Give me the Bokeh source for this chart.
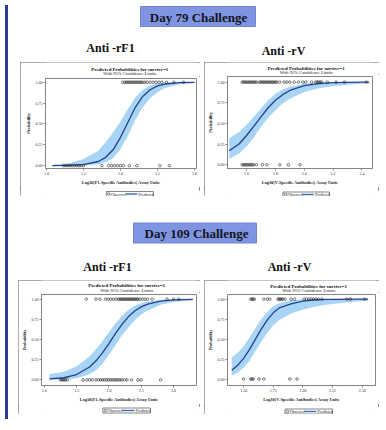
from bokeh.plotting import figure
from bokeh.layouts import row, column
from bokeh.models import FixedTicker, PrintfTickFormatter, Div, Spacer, Range1d
from bokeh.core.properties import value
from bokeh.embed import file_html
from bokeh.resources import INLINE

SERIF = "Liberation Serif"

# ---------------- text ----------------
day_titles = ["Day 79 Challenge", "Day 109 Challenge"]
antibody_titles = ["Anti -rF1", "Anti -rV"]
panel_title = "Predicted Probabilities for survive=1"
panel_subtitle = "With 95% Confidence Limits"
legend_labels = ["Observed", "Predicted"]
xlabel_f1 = "Log10(F1-Specific Antibodies) Assay Units"
xlabel_v = "Log10(V-Specific Antibodies) Assay Units"
ylabel = "Probability"
prob_ticks = [0.0, 0.25, 0.5, 0.75, 1.0]

# ---------------- Day 79, anti-rF1 ----------------
d79f1_x = [1.08, 1.3, 1.5, 1.7, 1.8, 1.9, 2.0, 2.1, 2.2, 2.3, 2.4, 2.5, 2.6, 2.8, 3.0]
d79f1_p = [0.001, 0.003, 0.012, 0.05, 0.10, 0.19, 0.34, 0.52, 0.70, 0.83, 0.91, 0.956, 0.979, 0.995, 0.999]
d79f1_lo = [0.0, 0.0, 0.002, 0.015, 0.04, 0.09, 0.20, 0.36, 0.55, 0.70, 0.81, 0.88, 0.93, 0.975, 0.992]
d79f1_hi = [0.012, 0.03, 0.08, 0.18, 0.28, 0.40, 0.53, 0.68, 0.82, 0.91, 0.96, 0.985, 0.995, 1.0, 1.0]
d79f1_alive = [2.03, 2.06, 2.08, 2.10, 2.12, 2.14, 2.16, 2.18, 2.20, 2.22, 2.24, 2.26, 2.28,
               2.30, 2.33, 2.36, 2.40, 2.44, 2.48, 2.52, 2.56, 2.62, 2.72, 2.85]
d79f1_dead = [1.23, 1.26, 1.29, 1.32, 1.35, 1.38, 1.41, 1.44, 1.47, 1.50, 1.75, 1.84, 1.88,
              1.92, 1.96, 2.00, 2.04, 2.12, 2.22, 2.53, 2.66]
d79f1_xticks = [1.0, 1.5, 2.0, 2.5, 3.0]

# ---------------- Day 79, anti-rV ----------------
d79v_x = [1.48, 1.55, 1.6, 1.65, 1.7, 1.75, 1.8, 1.85, 1.9, 2.0, 2.1, 2.2, 2.3, 2.4, 2.45]
d79v_p = [0.17, 0.255, 0.354, 0.465, 0.58, 0.69, 0.78, 0.848, 0.899, 0.958, 0.983, 0.993, 0.997, 0.999, 0.9995]
d79v_lo = [0.07, 0.14, 0.22, 0.33, 0.46, 0.57, 0.66, 0.74, 0.80, 0.88, 0.925, 0.95, 0.968, 0.98, 0.985]
d79v_hi = [0.32, 0.40, 0.48, 0.58, 0.68, 0.78, 0.86, 0.91, 0.945, 0.98, 0.993, 0.998, 1.0, 1.0, 1.0]
d79v_alive = [1.57, 1.58, 1.59, 1.60, 1.61, 1.62, 1.63, 1.64, 1.65, 1.66, 1.67, 1.69, 1.70, 1.71,
              1.72, 1.73, 1.74, 1.75, 1.76, 1.77, 1.78, 1.79, 1.80, 1.81, 1.83, 1.86, 1.88, 1.90,
              1.93, 1.96, 1.99, 2.01, 2.05, 2.08, 2.09, 2.10, 2.11, 2.12, 2.16, 2.22, 2.28, 2.43]
d79v_dead = [1.57, 1.58, 1.59, 1.60, 1.61, 1.62, 1.63, 1.64, 1.65, 1.67, 1.71, 1.74, 1.83, 1.89, 1.97]
d79v_xticks = [1.6, 1.8, 2.0, 2.2, 2.4]

# ---------------- Day 109, anti-rF1 ----------------
d109f1_x = [1.08, 1.3, 1.5, 1.7, 1.8, 1.9, 2.0, 2.1, 2.2, 2.3, 2.4, 2.5, 2.6, 2.8, 3.0, 3.3]
d109f1_p = [0.012, 0.026, 0.066, 0.159, 0.236, 0.334, 0.45, 0.573, 0.686, 0.781, 0.853, 0.905,
            0.939, 0.976, 0.991, 0.998]
d109f1_lo = [0.001, 0.005, 0.02, 0.07, 0.12, 0.20, 0.31, 0.43, 0.55, 0.65, 0.74, 0.81, 0.86,
             0.93, 0.965, 0.988]
d109f1_hi = [0.07, 0.10, 0.17, 0.29, 0.38, 0.48, 0.59, 0.70, 0.79, 0.87, 0.92, 0.95, 0.97,
             0.99, 0.997, 1.0]
d109f1_alive = [1.65, 1.80, 1.86, 1.95, 1.99, 2.03, 2.07, 2.11, 2.15, 2.17, 2.19, 2.21, 2.23,
                2.25, 2.27, 2.29, 2.31, 2.33, 2.35, 2.37, 2.39, 2.41, 2.43, 2.45, 2.48, 2.52,
                2.56, 2.60, 2.67, 2.90, 3.00, 3.08]
d109f1_dead = [1.25, 1.27, 1.29, 1.31, 1.33, 1.36, 1.60, 1.66, 1.70, 1.74, 1.80, 1.84, 1.87,
               1.90, 1.93, 1.96, 1.99, 2.02, 2.05, 2.08, 2.11, 2.14, 2.17, 2.20, 2.24, 2.28,
               2.35, 2.45, 2.50, 2.80]
d109f1_xticks = [1.0, 1.5, 2.0, 2.5, 3.0]

# ---------------- Day 109, anti-rV ----------------
d109v_x = [1.40, 1.45, 1.5, 1.55, 1.6, 1.65, 1.7, 1.75, 1.8, 1.9, 2.0, 2.1, 2.2, 2.3, 2.4, 2.55]
d109v_p = [0.11, 0.171, 0.259, 0.372, 0.5, 0.628, 0.741, 0.829, 0.89, 0.94, 0.975, 0.99,
           0.996, 0.998, 0.999, 1.0]
d109v_lo = [0.04, 0.08, 0.14, 0.23, 0.35, 0.47, 0.58, 0.67, 0.74, 0.82, 0.87, 0.905, 0.93,
            0.95, 0.965, 0.98]
d109v_hi = [0.27, 0.33, 0.41, 0.52, 0.64, 0.75, 0.84, 0.91, 0.95, 0.985, 0.995, 0.998, 1.0,
            1.0, 1.0, 1.0]
d109v_alive = [1.56, 1.57, 1.58, 1.59, 1.67, 1.70, 1.72, 1.79, 1.80, 1.81, 1.82, 1.83, 1.85,
               1.90, 1.93, 2.01, 2.03, 2.05, 2.07, 2.09, 2.11, 2.13, 2.16, 2.37, 2.40, 2.52]
d109v_dead = [1.50, 1.56, 1.57, 1.58, 1.63, 1.67, 1.89, 1.95]
d109v_xticks = [1.5, 1.75, 2.0, 2.25, 2.5]

BAND = "#a8d4f6"
CURVE = "#24418f"
GRAY = "#858585"
EDGE = "#8f8f8f"


def canvas_fig(w, h):
    p = figure(width=w, height=h, x_range=Range1d(0, w), y_range=Range1d(h, 0),
               toolbar_location=None, output_backend="svg", min_border=0,
               x_axis_location=None, y_axis_location=None, outline_line_color=None)
    p.grid.visible = False
    return p


def plot_fig(w, h, ml, mt, mr, mb, xr, yr, xt, xfmt, xlabel, fx, fp, flo, fhi, alive, dead):
    p = figure(width=w, height=h, x_range=Range1d(*xr), y_range=Range1d(*yr),
               toolbar_location=None, output_backend="svg",
               min_border_left=ml, min_border_top=mt, min_border_right=mr, min_border_bottom=mb,
               outline_line_color=GRAY)
    p.xaxis.ticker = FixedTicker(ticks=xt)
    p.xaxis.formatter = PrintfTickFormatter(format=xfmt)
    p.yaxis.ticker = FixedTicker(ticks=prob_ticks)
    p.yaxis.formatter = PrintfTickFormatter(format="%.2f")
    p.xaxis.axis_label = xlabel
    p.yaxis.axis_label = ylabel
    for ax in p.axis:
        ax.major_label_text_font = SERIF
        ax.major_label_text_font_size = "4px"
        ax.major_label_text_color = "#333333"
        ax.axis_label_text_font = SERIF
        ax.axis_label_text_font_size = "4.3px"
        ax.axis_label_text_font_style = "bold"
        ax.axis_label_text_color = "#222222"
        ax.major_tick_out = 2
        ax.major_tick_in = 0
        ax.minor_tick_line_color = None
        ax.axis_line_color = GRAY
        ax.major_tick_line_color = GRAY
        ax.major_label_standoff = 1
        ax.axis_label_standoff = 2
    p.grid.visible = False
    # confidence band: upper limits forward, lower limits back, as one polygon
    p.patch(x=fx + fx[::-1], y=fhi + flo[::-1], fill_color=BAND, line_color=None)
    p.line(x=fx, y=fp, line_color=CURVE, line_width=1.3)
    p.scatter(x=alive + dead, y=[1.0] * len(alive) + [0.0] * len(dead),
              marker="circle", size=2.6, fill_color=None, line_color="#2a2a2a", line_width=0.6)
    return p


def panel(W, H, T, B, ml, mr, mt, mb, title_y, sub_y, leg_y,
          xr, yr, xt, xfmt, xlabel, fx, fp, flo, fhi, alive, dead):
    cx = ml + (W - ml - mr) / 2.0

    top = canvas_fig(W, T)
    top.text(x=[cx], y=[title_y], text=[panel_title], text_font=value(SERIF),
             text_font_style="bold", text_font_size="4.9px", text_align="center",
             text_baseline="middle", text_color="#111111")
    top.text(x=[cx], y=[sub_y], text=[panel_subtitle], text_font=value(SERIF),
             text_font_size="4.5px", text_align="center", text_baseline="middle",
             text_color="#222222")

    mid = plot_fig(W, H - T - B, ml, mt, mr, mb, xr, yr, xt, xfmt, xlabel,
                   fx, fp, flo, fhi, alive, dead)

    bot = canvas_fig(W, B)
    bot.quad(left=[cx - 28], right=[cx + 28], top=[leg_y - 2.5], bottom=[leg_y + 2.5],
             fill_color="white", line_color="#333333", line_width=0.6)
    bot.scatter(x=[cx - 25], y=[leg_y], marker="circle", size=2.6, fill_color=None,
                line_color="#2a2a2a", line_width=0.6)
    bot.text(x=[cx - 22.5], y=[leg_y], text=[legend_labels[0]], text_font=value(SERIF),
             text_font_size="4px", text_align="left", text_baseline="middle",
             text_color="#222222")
    bot.quad(left=[cx - 5], right=[cx + 9], top=[leg_y - 0.9], bottom=[leg_y + 0.9],
             fill_color=BAND, line_color=None)
    bot.segment(x0=[cx - 5], y0=[leg_y], x1=[cx + 9], y1=[leg_y], line_color=CURVE,
                line_width=0.8)
    bot.text(x=[cx + 10.5], y=[leg_y], text=[legend_labels[1]], text_font=value(SERIF),
             text_font_size="4px", text_align="left", text_baseline="middle",
             text_color="#222222")

    col = column(top, mid, bot)
    col.styles = {"outline": "1px solid " + EDGE, "outline-offset": "-1px"}
    return col


def header(w, h, box, day_text, day_xy, ab_xy):
    p = canvas_fig(w, h)
    p.quad(left=[box[0]], right=[box[1]], top=[box[2]], bottom=[box[3]],
           fill_color="#7f95e2", line_color="#6d84d4", line_width=1)
    p.text(x=[day_xy[0]], y=[day_xy[1]], text=[day_text], text_font=value(SERIF),
           text_font_style="bold", text_font_size="13px", text_align="center",
           text_baseline="middle", text_color="#15151f")
    p.text(x=[a[0] for a in ab_xy], y=[a[1] for a in ab_xy], text=antibody_titles,
           text_font=value(SERIF), text_font_style="bold", text_font_size="12px",
           text_align="center", text_baseline="middle", text_color="#111111")
    return p


h1 = header(367, 62, (127, 242, 6, 26), day_titles[0], (185, 16.5), [(97, 47), (270, 50.5)])
h2 = header(367, 84, (120, 243, 26.5, 46.5), day_titles[1], (183, 36.5), [(94, 70), (276, 70)])

p1 = panel(180, 134, 14, 9, 25, 4, 2, 17, 6.5, 10.7, 3.5,
           (0.987, 3.026), (-0.034, 1.045), d79f1_xticks, "%.1f", xlabel_f1,
           d79f1_x, d79f1_p, d79f1_lo, d79f1_hi, d79f1_alive, d79f1_dead)
p2 = panel(175, 134, 12, 9, 22, 7, 2, 16, 6.4, 9.8, 4.0,
           (1.468, 2.473), (-0.045, 1.068), d79v_xticks, "%.1f", xlabel_v,
           d79v_x, d79v_p, d79v_lo, d79v_hi, d79v_alive, d79v_dead)
p3 = panel(182, 134, 12, 10, 22, 4, 2, 14, 5.3, 10.2, 4.0,
           (0.956, 3.356), (-0.07, 1.058), d109f1_xticks, "%.1f", xlabel_f1,
           d109f1_x, d109f1_p, d109f1_lo, d109f1_hi, d109f1_alive, d109f1_dead)
p4 = panel(175, 134, 12, 10, 21, 4, 2, 13, 5.8, 10.3, 5.0,
           (1.364, 2.612), (-0.081, 1.058), d109v_xticks, "%.2f", xlabel_v,
           d109v_x, d109v_p, d109v_lo, d109v_hi, d109v_alive, d109v_dead)

bar = Div(text="", width=3, height=414, styles={"background-color": "#283c8c"})

layout = row(
    bar,
    column(
        h1,
        row(Spacer(width=7, height=134), p1, Spacer(width=4, height=134), p2),
        h2,
        row(Spacer(width=5, height=134), p3, Spacer(width=4, height=134), p4),
    ),
)

open("out.html", "w").write(file_html(layout, INLINE))
